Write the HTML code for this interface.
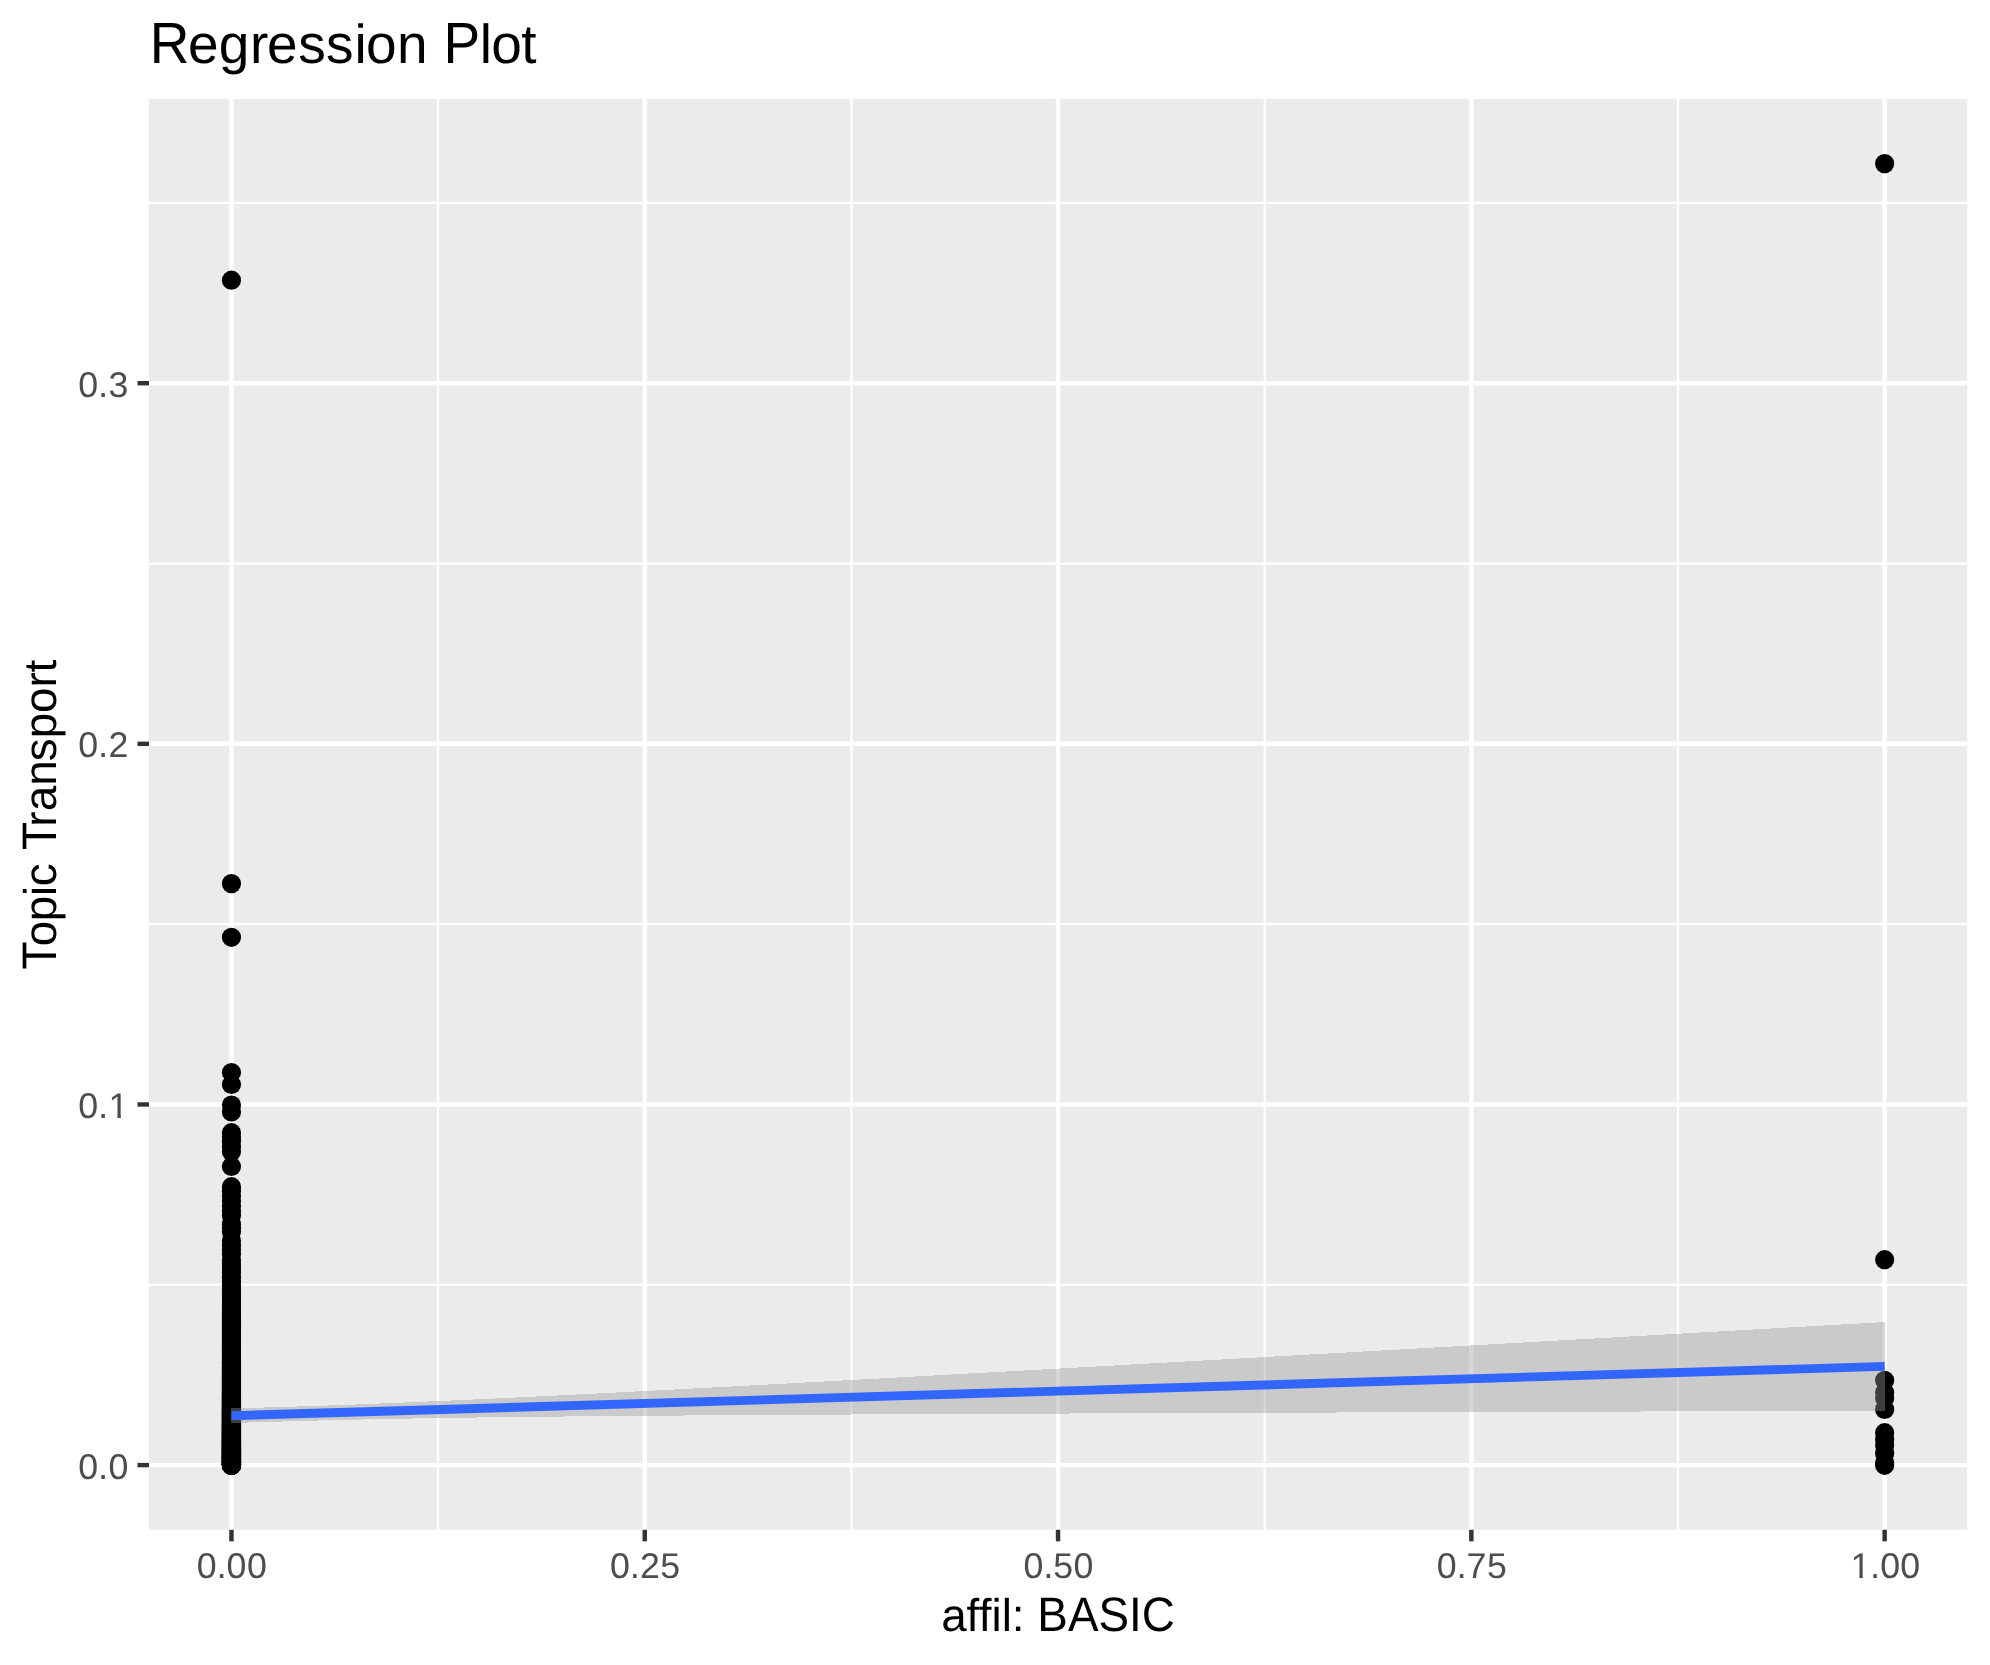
<!DOCTYPE html>
<html><head><meta charset="utf-8"><title>Regression Plot</title>
<style>html,body{margin:0;padding:0;background:#fff;width:1990px;height:1665px;overflow:hidden}body{position:relative;font-family:"Liberation Sans",sans-serif}</style></head>
<body>
<svg width="1990" height="1665" viewBox="0 0 1990 1665" style="display:block;position:absolute;left:0;top:0;will-change:transform">
<defs><clipPath id="c1"><path d="M-20,-40H20V-3.05H2.4V2H-1.1V-3.05H-20Z"/></clipPath></defs>
<rect x="0" y="0" width="1990" height="1665" fill="#FFFFFF"/>
<rect x="149.0" y="99.0" width="1818.2" height="1430.8" fill="#EBEBEB"/>
<line x1="149.0" x2="1967.2" y1="1284.78" y2="1284.78" stroke="#FFFFFF" stroke-width="2.22"/>
<line x1="149.0" x2="1967.2" y1="924.15" y2="924.15" stroke="#FFFFFF" stroke-width="2.22"/>
<line x1="149.0" x2="1967.2" y1="563.52" y2="563.52" stroke="#FFFFFF" stroke-width="2.22"/>
<line x1="149.0" x2="1967.2" y1="202.89" y2="202.89" stroke="#FFFFFF" stroke-width="2.22"/>
<line y1="99.0" y2="1529.8" x1="438.10" x2="438.10" stroke="#FFFFFF" stroke-width="2.22"/>
<line y1="99.0" y2="1529.8" x1="851.40" x2="851.40" stroke="#FFFFFF" stroke-width="2.22"/>
<line y1="99.0" y2="1529.8" x1="1264.70" x2="1264.70" stroke="#FFFFFF" stroke-width="2.22"/>
<line y1="99.0" y2="1529.8" x1="1678.00" x2="1678.00" stroke="#FFFFFF" stroke-width="2.22"/>
<line x1="149.0" x2="1967.2" y1="1465.10" y2="1465.10" stroke="#FFFFFF" stroke-width="4.45"/>
<line x1="149.0" x2="1967.2" y1="1104.47" y2="1104.47" stroke="#FFFFFF" stroke-width="4.45"/>
<line x1="149.0" x2="1967.2" y1="743.84" y2="743.84" stroke="#FFFFFF" stroke-width="4.45"/>
<line x1="149.0" x2="1967.2" y1="383.21" y2="383.21" stroke="#FFFFFF" stroke-width="4.45"/>
<line y1="99.0" y2="1529.8" x1="231.45" x2="231.45" stroke="#FFFFFF" stroke-width="4.45"/>
<line y1="99.0" y2="1529.8" x1="644.75" x2="644.75" stroke="#FFFFFF" stroke-width="4.45"/>
<line y1="99.0" y2="1529.8" x1="1058.05" x2="1058.05" stroke="#FFFFFF" stroke-width="4.45"/>
<line y1="99.0" y2="1529.8" x1="1471.35" x2="1471.35" stroke="#FFFFFF" stroke-width="4.45"/>
<line y1="99.0" y2="1529.8" x1="1884.65" x2="1884.65" stroke="#FFFFFF" stroke-width="4.45"/>
<g fill="#000000">
<circle cx="231.45" cy="280.2" r="9.6"/>
<circle cx="231.45" cy="883.65" r="9.6"/>
<circle cx="231.45" cy="937.3" r="9.6"/>
<circle cx="231.45" cy="1072.5" r="9.6"/>
<circle cx="231.45" cy="1084.5" r="9.6"/>
<circle cx="231.45" cy="1105.1" r="9.6"/>
<circle cx="231.45" cy="1111.9" r="9.6"/>
<circle cx="231.45" cy="1132.7" r="9.6"/>
<circle cx="231.45" cy="1137.0" r="9.6"/>
<circle cx="231.45" cy="1141.3" r="9.6"/>
<circle cx="231.45" cy="1146.5" r="9.6"/>
<circle cx="231.45" cy="1151.8" r="9.6"/>
<circle cx="231.45" cy="1166.5" r="9.6"/>
<circle cx="231.45" cy="1186.7" r="9.6"/>
<circle cx="231.45" cy="1191.2" r="9.6"/>
<circle cx="231.45" cy="1196" r="9.6"/>
<circle cx="231.45" cy="1201" r="9.6"/>
<circle cx="231.45" cy="1206" r="9.6"/>
<circle cx="231.45" cy="1211" r="9.6"/>
<circle cx="231.45" cy="1215.6" r="9.6"/>
<circle cx="231.45" cy="1224.4" r="9.6"/>
<circle cx="231.45" cy="1228" r="9.6"/>
<circle cx="231.45" cy="1231.8" r="9.6"/>
<circle cx="231.45" cy="1240.8" r="9.6"/>
<circle cx="231.45" cy="1245" r="9.6"/>
<circle cx="231.45" cy="1249.5" r="9.6"/>
<circle cx="231.45" cy="1254.3" r="9.6"/>
<circle cx="231.45" cy="1260.6" r="9.6"/>
<circle cx="231.45" cy="1264" r="9.6"/>
<circle cx="231.45" cy="1267.5" r="9.6"/>
<circle cx="231.45" cy="1465.04" r="9.6"/>
<circle cx="231.45" cy="1464.92" r="9.6"/>
<circle cx="231.45" cy="1464.8" r="9.6"/>
<circle cx="231.45" cy="1464.68" r="9.6"/>
<circle cx="231.45" cy="1464.55" r="9.6"/>
<circle cx="231.45" cy="1464.43" r="9.6"/>
<circle cx="231.45" cy="1464.31" r="9.6"/>
<circle cx="231.45" cy="1464.19" r="9.6"/>
<circle cx="231.45" cy="1464.06" r="9.6"/>
<circle cx="231.45" cy="1463.94" r="9.6"/>
<circle cx="231.45" cy="1463.81" r="9.6"/>
<circle cx="231.45" cy="1463.69" r="9.6"/>
<circle cx="231.45" cy="1463.57" r="9.6"/>
<circle cx="231.45" cy="1463.44" r="9.6"/>
<circle cx="231.45" cy="1463.32" r="9.6"/>
<circle cx="231.45" cy="1463.19" r="9.6"/>
<circle cx="231.45" cy="1463.07" r="9.6"/>
<circle cx="231.45" cy="1462.94" r="9.6"/>
<circle cx="231.45" cy="1462.81" r="9.6"/>
<circle cx="231.45" cy="1462.69" r="9.6"/>
<circle cx="231.45" cy="1462.56" r="9.6"/>
<circle cx="231.45" cy="1462.43" r="9.6"/>
<circle cx="231.45" cy="1462.31" r="9.6"/>
<circle cx="231.45" cy="1462.18" r="9.6"/>
<circle cx="231.45" cy="1462.05" r="9.6"/>
<circle cx="231.45" cy="1461.92" r="9.6"/>
<circle cx="231.45" cy="1461.79" r="9.6"/>
<circle cx="231.45" cy="1461.66" r="9.6"/>
<circle cx="231.45" cy="1461.53" r="9.6"/>
<circle cx="231.45" cy="1461.41" r="9.6"/>
<circle cx="231.45" cy="1461.28" r="9.6"/>
<circle cx="231.45" cy="1461.14" r="9.6"/>
<circle cx="231.45" cy="1461.01" r="9.6"/>
<circle cx="231.45" cy="1460.88" r="9.6"/>
<circle cx="231.45" cy="1460.75" r="9.6"/>
<circle cx="231.45" cy="1460.62" r="9.6"/>
<circle cx="231.45" cy="1460.49" r="9.6"/>
<circle cx="231.45" cy="1460.36" r="9.6"/>
<circle cx="231.45" cy="1460.22" r="9.6"/>
<circle cx="231.45" cy="1460.09" r="9.6"/>
<circle cx="231.45" cy="1459.96" r="9.6"/>
<circle cx="231.45" cy="1459.82" r="9.6"/>
<circle cx="231.45" cy="1459.69" r="9.6"/>
<circle cx="231.45" cy="1459.56" r="9.6"/>
<circle cx="231.45" cy="1459.42" r="9.6"/>
<circle cx="231.45" cy="1459.29" r="9.6"/>
<circle cx="231.45" cy="1459.15" r="9.6"/>
<circle cx="231.45" cy="1459.01" r="9.6"/>
<circle cx="231.45" cy="1458.88" r="9.6"/>
<circle cx="231.45" cy="1458.74" r="9.6"/>
<circle cx="231.45" cy="1458.61" r="9.6"/>
<circle cx="231.45" cy="1458.47" r="9.6"/>
<circle cx="231.45" cy="1458.33" r="9.6"/>
<circle cx="231.45" cy="1458.19" r="9.6"/>
<circle cx="231.45" cy="1458.05" r="9.6"/>
<circle cx="231.45" cy="1457.92" r="9.6"/>
<circle cx="231.45" cy="1457.78" r="9.6"/>
<circle cx="231.45" cy="1457.64" r="9.6"/>
<circle cx="231.45" cy="1457.5" r="9.6"/>
<circle cx="231.45" cy="1457.36" r="9.6"/>
<circle cx="231.45" cy="1457.22" r="9.6"/>
<circle cx="231.45" cy="1457.08" r="9.6"/>
<circle cx="231.45" cy="1456.93" r="9.6"/>
<circle cx="231.45" cy="1456.79" r="9.6"/>
<circle cx="231.45" cy="1456.65" r="9.6"/>
<circle cx="231.45" cy="1456.51" r="9.6"/>
<circle cx="231.45" cy="1456.37" r="9.6"/>
<circle cx="231.45" cy="1456.22" r="9.6"/>
<circle cx="231.45" cy="1456.08" r="9.6"/>
<circle cx="231.45" cy="1455.93" r="9.6"/>
<circle cx="231.45" cy="1455.79" r="9.6"/>
<circle cx="231.45" cy="1455.65" r="9.6"/>
<circle cx="231.45" cy="1455.5" r="9.6"/>
<circle cx="231.45" cy="1455.35" r="9.6"/>
<circle cx="231.45" cy="1455.21" r="9.6"/>
<circle cx="231.45" cy="1455.06" r="9.6"/>
<circle cx="231.45" cy="1454.92" r="9.6"/>
<circle cx="231.45" cy="1454.77" r="9.6"/>
<circle cx="231.45" cy="1454.62" r="9.6"/>
<circle cx="231.45" cy="1454.47" r="9.6"/>
<circle cx="231.45" cy="1454.32" r="9.6"/>
<circle cx="231.45" cy="1454.18" r="9.6"/>
<circle cx="231.45" cy="1454.03" r="9.6"/>
<circle cx="231.45" cy="1453.88" r="9.6"/>
<circle cx="231.45" cy="1453.73" r="9.6"/>
<circle cx="231.45" cy="1453.57" r="9.6"/>
<circle cx="231.45" cy="1453.42" r="9.6"/>
<circle cx="231.45" cy="1453.27" r="9.6"/>
<circle cx="231.45" cy="1453.12" r="9.6"/>
<circle cx="231.45" cy="1452.97" r="9.6"/>
<circle cx="231.45" cy="1452.81" r="9.6"/>
<circle cx="231.45" cy="1452.66" r="9.6"/>
<circle cx="231.45" cy="1452.51" r="9.6"/>
<circle cx="231.45" cy="1452.35" r="9.6"/>
<circle cx="231.45" cy="1452.2" r="9.6"/>
<circle cx="231.45" cy="1452.04" r="9.6"/>
<circle cx="231.45" cy="1451.89" r="9.6"/>
<circle cx="231.45" cy="1451.73" r="9.6"/>
<circle cx="231.45" cy="1451.58" r="9.6"/>
<circle cx="231.45" cy="1451.42" r="9.6"/>
<circle cx="231.45" cy="1451.26" r="9.6"/>
<circle cx="231.45" cy="1451.1" r="9.6"/>
<circle cx="231.45" cy="1450.94" r="9.6"/>
<circle cx="231.45" cy="1450.79" r="9.6"/>
<circle cx="231.45" cy="1450.63" r="9.6"/>
<circle cx="231.45" cy="1450.47" r="9.6"/>
<circle cx="231.45" cy="1450.31" r="9.6"/>
<circle cx="231.45" cy="1450.14" r="9.6"/>
<circle cx="231.45" cy="1449.98" r="9.6"/>
<circle cx="231.45" cy="1449.82" r="9.6"/>
<circle cx="231.45" cy="1449.66" r="9.6"/>
<circle cx="231.45" cy="1449.5" r="9.6"/>
<circle cx="231.45" cy="1449.33" r="9.6"/>
<circle cx="231.45" cy="1449.17" r="9.6"/>
<circle cx="231.45" cy="1449.0" r="9.6"/>
<circle cx="231.45" cy="1448.84" r="9.6"/>
<circle cx="231.45" cy="1448.67" r="9.6"/>
<circle cx="231.45" cy="1448.51" r="9.6"/>
<circle cx="231.45" cy="1448.34" r="9.6"/>
<circle cx="231.45" cy="1448.17" r="9.6"/>
<circle cx="231.45" cy="1448.01" r="9.6"/>
<circle cx="231.45" cy="1447.84" r="9.6"/>
<circle cx="231.45" cy="1447.67" r="9.6"/>
<circle cx="231.45" cy="1447.5" r="9.6"/>
<circle cx="231.45" cy="1447.33" r="9.6"/>
<circle cx="231.45" cy="1447.16" r="9.6"/>
<circle cx="231.45" cy="1446.99" r="9.6"/>
<circle cx="231.45" cy="1446.82" r="9.6"/>
<circle cx="231.45" cy="1446.64" r="9.6"/>
<circle cx="231.45" cy="1446.47" r="9.6"/>
<circle cx="231.45" cy="1446.3" r="9.6"/>
<circle cx="231.45" cy="1446.12" r="9.6"/>
<circle cx="231.45" cy="1445.95" r="9.6"/>
<circle cx="231.45" cy="1445.77" r="9.6"/>
<circle cx="231.45" cy="1445.6" r="9.6"/>
<circle cx="231.45" cy="1445.42" r="9.6"/>
<circle cx="231.45" cy="1445.25" r="9.6"/>
<circle cx="231.45" cy="1445.07" r="9.6"/>
<circle cx="231.45" cy="1444.89" r="9.6"/>
<circle cx="231.45" cy="1444.71" r="9.6"/>
<circle cx="231.45" cy="1444.53" r="9.6"/>
<circle cx="231.45" cy="1444.35" r="9.6"/>
<circle cx="231.45" cy="1444.17" r="9.6"/>
<circle cx="231.45" cy="1443.99" r="9.6"/>
<circle cx="231.45" cy="1443.81" r="9.6"/>
<circle cx="231.45" cy="1443.63" r="9.6"/>
<circle cx="231.45" cy="1443.44" r="9.6"/>
<circle cx="231.45" cy="1443.26" r="9.6"/>
<circle cx="231.45" cy="1443.08" r="9.6"/>
<circle cx="231.45" cy="1442.89" r="9.6"/>
<circle cx="231.45" cy="1442.71" r="9.6"/>
<circle cx="231.45" cy="1442.52" r="9.6"/>
<circle cx="231.45" cy="1442.33" r="9.6"/>
<circle cx="231.45" cy="1442.14" r="9.6"/>
<circle cx="231.45" cy="1441.96" r="9.6"/>
<circle cx="231.45" cy="1441.77" r="9.6"/>
<circle cx="231.45" cy="1441.58" r="9.6"/>
<circle cx="231.45" cy="1441.39" r="9.6"/>
<circle cx="231.45" cy="1441.2" r="9.6"/>
<circle cx="231.45" cy="1441.0" r="9.6"/>
<circle cx="231.45" cy="1440.81" r="9.6"/>
<circle cx="231.45" cy="1440.62" r="9.6"/>
<circle cx="231.45" cy="1440.42" r="9.6"/>
<circle cx="231.45" cy="1440.23" r="9.6"/>
<circle cx="231.45" cy="1440.03" r="9.6"/>
<circle cx="231.45" cy="1439.84" r="9.6"/>
<circle cx="231.45" cy="1439.64" r="9.6"/>
<circle cx="231.45" cy="1439.44" r="9.6"/>
<circle cx="231.45" cy="1439.25" r="9.6"/>
<circle cx="231.45" cy="1439.05" r="9.6"/>
<circle cx="231.45" cy="1438.85" r="9.6"/>
<circle cx="231.45" cy="1438.65" r="9.6"/>
<circle cx="231.45" cy="1438.44" r="9.6"/>
<circle cx="231.45" cy="1438.24" r="9.6"/>
<circle cx="231.45" cy="1438.04" r="9.6"/>
<circle cx="231.45" cy="1437.83" r="9.6"/>
<circle cx="231.45" cy="1437.63" r="9.6"/>
<circle cx="231.45" cy="1437.42" r="9.6"/>
<circle cx="231.45" cy="1437.22" r="9.6"/>
<circle cx="231.45" cy="1437.01" r="9.6"/>
<circle cx="231.45" cy="1436.8" r="9.6"/>
<circle cx="231.45" cy="1436.59" r="9.6"/>
<circle cx="231.45" cy="1436.39" r="9.6"/>
<circle cx="231.45" cy="1436.17" r="9.6"/>
<circle cx="231.45" cy="1435.96" r="9.6"/>
<circle cx="231.45" cy="1435.75" r="9.6"/>
<circle cx="231.45" cy="1435.54" r="9.6"/>
<circle cx="231.45" cy="1435.32" r="9.6"/>
<circle cx="231.45" cy="1435.11" r="9.6"/>
<circle cx="231.45" cy="1434.89" r="9.6"/>
<circle cx="231.45" cy="1434.68" r="9.6"/>
<circle cx="231.45" cy="1434.46" r="9.6"/>
<circle cx="231.45" cy="1434.24" r="9.6"/>
<circle cx="231.45" cy="1434.02" r="9.6"/>
<circle cx="231.45" cy="1433.8" r="9.6"/>
<circle cx="231.45" cy="1433.58" r="9.6"/>
<circle cx="231.45" cy="1433.36" r="9.6"/>
<circle cx="231.45" cy="1433.14" r="9.6"/>
<circle cx="231.45" cy="1432.91" r="9.6"/>
<circle cx="231.45" cy="1432.69" r="9.6"/>
<circle cx="231.45" cy="1432.46" r="9.6"/>
<circle cx="231.45" cy="1432.23" r="9.6"/>
<circle cx="231.45" cy="1432.01" r="9.6"/>
<circle cx="231.45" cy="1431.78" r="9.6"/>
<circle cx="231.45" cy="1431.55" r="9.6"/>
<circle cx="231.45" cy="1431.32" r="9.6"/>
<circle cx="231.45" cy="1431.08" r="9.6"/>
<circle cx="231.45" cy="1430.85" r="9.6"/>
<circle cx="231.45" cy="1430.62" r="9.6"/>
<circle cx="231.45" cy="1430.38" r="9.6"/>
<circle cx="231.45" cy="1430.14" r="9.6"/>
<circle cx="231.45" cy="1429.91" r="9.6"/>
<circle cx="231.45" cy="1429.67" r="9.6"/>
<circle cx="231.45" cy="1429.43" r="9.6"/>
<circle cx="231.45" cy="1429.19" r="9.6"/>
<circle cx="231.45" cy="1428.95" r="9.6"/>
<circle cx="231.45" cy="1428.7" r="9.6"/>
<circle cx="231.45" cy="1428.46" r="9.6"/>
<circle cx="231.45" cy="1428.21" r="9.6"/>
<circle cx="231.45" cy="1427.97" r="9.6"/>
<circle cx="231.45" cy="1427.72" r="9.6"/>
<circle cx="231.45" cy="1427.47" r="9.6"/>
<circle cx="231.45" cy="1427.22" r="9.6"/>
<circle cx="231.45" cy="1426.97" r="9.6"/>
<circle cx="231.45" cy="1426.72" r="9.6"/>
<circle cx="231.45" cy="1426.47" r="9.6"/>
<circle cx="231.45" cy="1426.21" r="9.6"/>
<circle cx="231.45" cy="1425.95" r="9.6"/>
<circle cx="231.45" cy="1425.7" r="9.6"/>
<circle cx="231.45" cy="1425.44" r="9.6"/>
<circle cx="231.45" cy="1425.18" r="9.6"/>
<circle cx="231.45" cy="1424.92" r="9.6"/>
<circle cx="231.45" cy="1424.66" r="9.6"/>
<circle cx="231.45" cy="1424.39" r="9.6"/>
<circle cx="231.45" cy="1424.13" r="9.6"/>
<circle cx="231.45" cy="1423.86" r="9.6"/>
<circle cx="231.45" cy="1423.59" r="9.6"/>
<circle cx="231.45" cy="1423.32" r="9.6"/>
<circle cx="231.45" cy="1423.05" r="9.6"/>
<circle cx="231.45" cy="1422.78" r="9.6"/>
<circle cx="231.45" cy="1422.51" r="9.6"/>
<circle cx="231.45" cy="1422.23" r="9.6"/>
<circle cx="231.45" cy="1421.95" r="9.6"/>
<circle cx="231.45" cy="1421.68" r="9.6"/>
<circle cx="231.45" cy="1421.4" r="9.6"/>
<circle cx="231.45" cy="1421.12" r="9.6"/>
<circle cx="231.45" cy="1420.83" r="9.6"/>
<circle cx="231.45" cy="1420.55" r="9.6"/>
<circle cx="231.45" cy="1420.26" r="9.6"/>
<circle cx="231.45" cy="1419.98" r="9.6"/>
<circle cx="231.45" cy="1419.69" r="9.6"/>
<circle cx="231.45" cy="1419.4" r="9.6"/>
<circle cx="231.45" cy="1419.11" r="9.6"/>
<circle cx="231.45" cy="1418.81" r="9.6"/>
<circle cx="231.45" cy="1418.52" r="9.6"/>
<circle cx="231.45" cy="1418.22" r="9.6"/>
<circle cx="231.45" cy="1417.92" r="9.6"/>
<circle cx="231.45" cy="1417.62" r="9.6"/>
<circle cx="231.45" cy="1417.32" r="9.6"/>
<circle cx="231.45" cy="1417.01" r="9.6"/>
<circle cx="231.45" cy="1416.71" r="9.6"/>
<circle cx="231.45" cy="1416.4" r="9.6"/>
<circle cx="231.45" cy="1416.09" r="9.6"/>
<circle cx="231.45" cy="1415.78" r="9.6"/>
<circle cx="231.45" cy="1415.47" r="9.6"/>
<circle cx="231.45" cy="1415.15" r="9.6"/>
<circle cx="231.45" cy="1414.84" r="9.6"/>
<circle cx="231.45" cy="1414.52" r="9.6"/>
<circle cx="231.45" cy="1414.2" r="9.6"/>
<circle cx="231.45" cy="1413.87" r="9.6"/>
<circle cx="231.45" cy="1413.55" r="9.6"/>
<circle cx="231.45" cy="1413.22" r="9.6"/>
<circle cx="231.45" cy="1412.89" r="9.6"/>
<circle cx="231.45" cy="1412.56" r="9.6"/>
<circle cx="231.45" cy="1412.23" r="9.6"/>
<circle cx="231.45" cy="1411.89" r="9.6"/>
<circle cx="231.45" cy="1411.56" r="9.6"/>
<circle cx="231.45" cy="1411.22" r="9.6"/>
<circle cx="231.45" cy="1410.87" r="9.6"/>
<circle cx="231.45" cy="1410.53" r="9.6"/>
<circle cx="231.45" cy="1410.18" r="9.6"/>
<circle cx="231.45" cy="1409.84" r="9.6"/>
<circle cx="231.45" cy="1409.48" r="9.6"/>
<circle cx="231.45" cy="1409.13" r="9.6"/>
<circle cx="231.45" cy="1408.77" r="9.6"/>
<circle cx="231.45" cy="1408.42" r="9.6"/>
<circle cx="231.45" cy="1408.06" r="9.6"/>
<circle cx="231.45" cy="1407.69" r="9.6"/>
<circle cx="231.45" cy="1407.33" r="9.6"/>
<circle cx="231.45" cy="1406.96" r="9.6"/>
<circle cx="231.45" cy="1406.59" r="9.6"/>
<circle cx="231.45" cy="1406.21" r="9.6"/>
<circle cx="231.45" cy="1405.84" r="9.6"/>
<circle cx="231.45" cy="1405.46" r="9.6"/>
<circle cx="231.45" cy="1405.07" r="9.6"/>
<circle cx="231.45" cy="1404.69" r="9.6"/>
<circle cx="231.45" cy="1404.3" r="9.6"/>
<circle cx="231.45" cy="1403.91" r="9.6"/>
<circle cx="231.45" cy="1403.52" r="9.6"/>
<circle cx="231.45" cy="1403.12" r="9.6"/>
<circle cx="231.45" cy="1402.72" r="9.6"/>
<circle cx="231.45" cy="1402.32" r="9.6"/>
<circle cx="231.45" cy="1401.91" r="9.6"/>
<circle cx="231.45" cy="1401.5" r="9.6"/>
<circle cx="231.45" cy="1401.09" r="9.6"/>
<circle cx="231.45" cy="1400.68" r="9.6"/>
<circle cx="231.45" cy="1400.26" r="9.6"/>
<circle cx="231.45" cy="1399.83" r="9.6"/>
<circle cx="231.45" cy="1399.41" r="9.6"/>
<circle cx="231.45" cy="1398.98" r="9.6"/>
<circle cx="231.45" cy="1398.55" r="9.6"/>
<circle cx="231.45" cy="1398.11" r="9.6"/>
<circle cx="231.45" cy="1397.67" r="9.6"/>
<circle cx="231.45" cy="1397.22" r="9.6"/>
<circle cx="231.45" cy="1396.78" r="9.6"/>
<circle cx="231.45" cy="1396.32" r="9.6"/>
<circle cx="231.45" cy="1395.87" r="9.6"/>
<circle cx="231.45" cy="1395.41" r="9.6"/>
<circle cx="231.45" cy="1394.95" r="9.6"/>
<circle cx="231.45" cy="1394.48" r="9.6"/>
<circle cx="231.45" cy="1394.01" r="9.6"/>
<circle cx="231.45" cy="1393.53" r="9.6"/>
<circle cx="231.45" cy="1393.05" r="9.6"/>
<circle cx="231.45" cy="1392.56" r="9.6"/>
<circle cx="231.45" cy="1392.07" r="9.6"/>
<circle cx="231.45" cy="1391.58" r="9.6"/>
<circle cx="231.45" cy="1391.08" r="9.6"/>
<circle cx="231.45" cy="1390.57" r="9.6"/>
<circle cx="231.45" cy="1390.06" r="9.6"/>
<circle cx="231.45" cy="1389.55" r="9.6"/>
<circle cx="231.45" cy="1389.03" r="9.6"/>
<circle cx="231.45" cy="1388.5" r="9.6"/>
<circle cx="231.45" cy="1387.97" r="9.6"/>
<circle cx="231.45" cy="1387.44" r="9.6"/>
<circle cx="231.45" cy="1386.9" r="9.6"/>
<circle cx="231.45" cy="1386.35" r="9.6"/>
<circle cx="231.45" cy="1385.8" r="9.6"/>
<circle cx="231.45" cy="1385.24" r="9.6"/>
<circle cx="231.45" cy="1384.68" r="9.6"/>
<circle cx="231.45" cy="1384.1" r="9.6"/>
<circle cx="231.45" cy="1383.53" r="9.6"/>
<circle cx="231.45" cy="1382.94" r="9.6"/>
<circle cx="231.45" cy="1382.35" r="9.6"/>
<circle cx="231.45" cy="1381.76" r="9.6"/>
<circle cx="231.45" cy="1381.15" r="9.6"/>
<circle cx="231.45" cy="1380.54" r="9.6"/>
<circle cx="231.45" cy="1379.92" r="9.6"/>
<circle cx="231.45" cy="1379.3" r="9.6"/>
<circle cx="231.45" cy="1378.66" r="9.6"/>
<circle cx="231.45" cy="1378.02" r="9.6"/>
<circle cx="231.45" cy="1377.37" r="9.6"/>
<circle cx="231.45" cy="1376.72" r="9.6"/>
<circle cx="231.45" cy="1376.05" r="9.6"/>
<circle cx="231.45" cy="1375.38" r="9.6"/>
<circle cx="231.45" cy="1374.69" r="9.6"/>
<circle cx="231.45" cy="1374.0" r="9.6"/>
<circle cx="231.45" cy="1373.3" r="9.6"/>
<circle cx="231.45" cy="1372.59" r="9.6"/>
<circle cx="231.45" cy="1371.87" r="9.6"/>
<circle cx="231.45" cy="1371.13" r="9.6"/>
<circle cx="231.45" cy="1370.39" r="9.6"/>
<circle cx="231.45" cy="1369.64" r="9.6"/>
<circle cx="231.45" cy="1368.88" r="9.6"/>
<circle cx="231.45" cy="1368.1" r="9.6"/>
<circle cx="231.45" cy="1367.31" r="9.6"/>
<circle cx="231.45" cy="1366.52" r="9.6"/>
<circle cx="231.45" cy="1365.7" r="9.6"/>
<circle cx="231.45" cy="1364.88" r="9.6"/>
<circle cx="231.45" cy="1364.04" r="9.6"/>
<circle cx="231.45" cy="1363.19" r="9.6"/>
<circle cx="231.45" cy="1362.33" r="9.6"/>
<circle cx="231.45" cy="1361.45" r="9.6"/>
<circle cx="231.45" cy="1360.55" r="9.6"/>
<circle cx="231.45" cy="1359.64" r="9.6"/>
<circle cx="231.45" cy="1358.71" r="9.6"/>
<circle cx="231.45" cy="1357.77" r="9.6"/>
<circle cx="231.45" cy="1356.81" r="9.6"/>
<circle cx="231.45" cy="1355.83" r="9.6"/>
<circle cx="231.45" cy="1354.83" r="9.6"/>
<circle cx="231.45" cy="1353.81" r="9.6"/>
<circle cx="231.45" cy="1352.77" r="9.6"/>
<circle cx="231.45" cy="1351.72" r="9.6"/>
<circle cx="231.45" cy="1350.63" r="9.6"/>
<circle cx="231.45" cy="1349.53" r="9.6"/>
<circle cx="231.45" cy="1348.4" r="9.6"/>
<circle cx="231.45" cy="1347.25" r="9.6"/>
<circle cx="231.45" cy="1346.07" r="9.6"/>
<circle cx="231.45" cy="1344.86" r="9.6"/>
<circle cx="231.45" cy="1343.63" r="9.6"/>
<circle cx="231.45" cy="1342.36" r="9.6"/>
<circle cx="231.45" cy="1341.06" r="9.6"/>
<circle cx="231.45" cy="1339.73" r="9.6"/>
<circle cx="231.45" cy="1338.37" r="9.6"/>
<circle cx="231.45" cy="1336.97" r="9.6"/>
<circle cx="231.45" cy="1335.53" r="9.6"/>
<circle cx="231.45" cy="1334.05" r="9.6"/>
<circle cx="231.45" cy="1332.52" r="9.6"/>
<circle cx="231.45" cy="1330.95" r="9.6"/>
<circle cx="231.45" cy="1329.33" r="9.6"/>
<circle cx="231.45" cy="1327.66" r="9.6"/>
<circle cx="231.45" cy="1325.93" r="9.6"/>
<circle cx="231.45" cy="1324.14" r="9.6"/>
<circle cx="231.45" cy="1322.29" r="9.6"/>
<circle cx="231.45" cy="1320.37" r="9.6"/>
<circle cx="231.45" cy="1318.38" r="9.6"/>
<circle cx="231.45" cy="1316.3" r="9.6"/>
<circle cx="231.45" cy="1314.15" r="9.6"/>
<circle cx="231.45" cy="1311.89" r="9.6"/>
<circle cx="231.45" cy="1309.54" r="9.6"/>
<circle cx="231.45" cy="1307.08" r="9.6"/>
<circle cx="231.45" cy="1304.49" r="9.6"/>
<circle cx="231.45" cy="1301.76" r="9.6"/>
<circle cx="231.45" cy="1298.89" r="9.6"/>
<circle cx="231.45" cy="1295.85" r="9.6"/>
<circle cx="231.45" cy="1292.61" r="9.6"/>
<circle cx="231.45" cy="1289.17" r="9.6"/>
<circle cx="231.45" cy="1285.48" r="9.6"/>
<circle cx="231.45" cy="1281.51" r="9.6"/>
<circle cx="231.45" cy="1277.2" r="9.6"/>
<circle cx="231.45" cy="1272.51" r="9.6"/>
<circle cx="231.45" cy="1465.1" r="9.6"/>
<circle cx="231.45" cy="1465.1" r="9.6"/>
<circle cx="231.45" cy="1465.1" r="9.6"/>
<circle cx="231.45" cy="1465.1" r="9.6"/>
<circle cx="231.45" cy="1465.1" r="9.6"/>
<circle cx="231.45" cy="1465.1" r="9.6"/>
<circle cx="231.45" cy="1465.1" r="9.6"/>
<circle cx="231.45" cy="1465.1" r="9.6"/>
<circle cx="231.45" cy="1465.1" r="9.6"/>
<circle cx="231.45" cy="1465.1" r="9.6"/>
<circle cx="231.45" cy="1465.1" r="9.6"/>
<circle cx="231.45" cy="1465.1" r="9.6"/>
<circle cx="1884.65" cy="163.6" r="9.6"/>
<circle cx="1884.65" cy="1259.7" r="9.6"/>
<circle cx="1884.65" cy="1380.3" r="9.6"/>
<circle cx="1884.65" cy="1392.5" r="9.6"/>
<circle cx="1884.65" cy="1398.0" r="9.6"/>
<circle cx="1884.65" cy="1409.4" r="9.6"/>
<circle cx="1884.65" cy="1432.7" r="9.6"/>
<circle cx="1884.65" cy="1439.4" r="9.6"/>
<circle cx="1884.65" cy="1445.6" r="9.6"/>
<circle cx="1884.65" cy="1453.4" r="9.6"/>
<circle cx="1884.65" cy="1462.8" r="9.6"/>
<circle cx="1884.65" cy="1465.3" r="9.6"/>
</g>
<polygon fill="#999999" fill-opacity="0.4" shape-rendering="crispEdges" points="231.45,1408.40 252.11,1407.85 272.78,1407.26 293.44,1406.63 314.11,1405.96 334.77,1405.24 355.44,1404.48 376.11,1403.68 396.77,1402.85 417.44,1401.99 438.10,1401.09 458.76,1400.17 479.43,1399.22 500.10,1398.25 520.76,1397.26 541.42,1396.26 562.09,1395.24 582.75,1394.20 603.42,1393.16 624.09,1392.10 644.75,1391.03 665.41,1389.95 686.08,1388.87 706.74,1387.78 727.41,1386.68 748.08,1385.58 768.74,1384.47 789.40,1383.35 810.07,1382.24 830.73,1381.11 851.40,1379.99 872.07,1378.86 892.73,1377.73 913.39,1376.60 934.06,1375.46 954.72,1374.32 975.39,1373.18 996.06,1372.04 1016.72,1370.89 1037.38,1369.75 1058.05,1368.60 1078.71,1367.45 1099.38,1366.30 1120.05,1365.15 1140.71,1363.99 1161.38,1362.84 1182.04,1361.68 1202.71,1360.53 1223.37,1359.37 1244.04,1358.21 1264.70,1357.05 1285.37,1355.89 1306.03,1354.73 1326.69,1353.57 1347.36,1352.41 1368.03,1351.24 1388.69,1350.08 1409.36,1348.92 1430.02,1347.75 1450.69,1346.59 1471.35,1345.42 1492.02,1344.26 1512.68,1343.09 1533.35,1341.93 1554.01,1340.76 1574.68,1339.59 1595.34,1338.42 1616.01,1337.26 1636.67,1336.09 1657.34,1334.92 1678.00,1333.75 1698.66,1332.58 1719.33,1331.41 1740.00,1330.24 1760.66,1329.07 1781.33,1327.90 1801.99,1326.73 1822.66,1325.56 1843.32,1324.39 1863.99,1323.22 1884.65,1322.05 1884.65,1410.75 1863.99,1410.81 1843.32,1410.88 1822.66,1410.94 1801.99,1411.00 1781.33,1411.07 1760.66,1411.13 1740.00,1411.19 1719.33,1411.26 1698.66,1411.32 1678.00,1411.39 1657.34,1411.45 1636.67,1411.52 1616.01,1411.58 1595.34,1411.65 1574.68,1411.71 1554.01,1411.78 1533.35,1411.85 1512.68,1411.91 1492.02,1411.98 1471.35,1412.05 1450.69,1412.12 1430.02,1412.19 1409.36,1412.26 1388.69,1412.33 1368.03,1412.40 1347.36,1412.47 1326.69,1412.54 1306.03,1412.61 1285.37,1412.69 1264.70,1412.76 1244.04,1412.84 1223.37,1412.91 1202.71,1412.99 1182.04,1413.07 1161.38,1413.14 1140.71,1413.22 1120.05,1413.30 1099.38,1413.39 1078.71,1413.47 1058.05,1413.55 1037.38,1413.64 1016.72,1413.73 996.06,1413.81 975.39,1413.91 954.72,1414.00 934.06,1414.09 913.39,1414.19 892.73,1414.29 872.07,1414.39 851.40,1414.50 830.73,1414.61 810.07,1414.72 789.40,1414.83 768.74,1414.95 748.08,1415.08 727.41,1415.21 706.74,1415.35 686.08,1415.49 665.41,1415.64 644.75,1415.79 624.09,1415.96 603.42,1416.14 582.75,1416.32 562.09,1416.52 541.42,1416.73 520.76,1416.96 500.10,1417.21 479.43,1417.47 458.76,1417.76 438.10,1418.07 417.44,1418.41 396.77,1418.78 376.11,1419.18 355.44,1419.62 334.77,1420.09 314.11,1420.61 293.44,1421.17 272.78,1421.77 252.11,1422.41 231.45,1423.10"/>
<line x1="231.45" y1="1415.75" x2="1884.65" y2="1366.4" stroke="#3366FF" stroke-width="8.9" stroke-linecap="butt"/>
<line x1="137.5" x2="149.0" y1="1465.10" y2="1465.10" stroke="#333333" stroke-width="4.45"/>
<line x1="137.5" x2="149.0" y1="1104.47" y2="1104.47" stroke="#333333" stroke-width="4.45"/>
<line x1="137.5" x2="149.0" y1="743.84" y2="743.84" stroke="#333333" stroke-width="4.45"/>
<line x1="137.5" x2="149.0" y1="383.21" y2="383.21" stroke="#333333" stroke-width="4.45"/>
<line y1="1529.8" y2="1541.3" x1="231.45" x2="231.45" stroke="#333333" stroke-width="4.45"/>
<line y1="1529.8" y2="1541.3" x1="644.75" x2="644.75" stroke="#333333" stroke-width="4.45"/>
<line y1="1529.8" y2="1541.3" x1="1058.05" x2="1058.05" stroke="#333333" stroke-width="4.45"/>
<line y1="1529.8" y2="1541.3" x1="1471.35" x2="1471.35" stroke="#333333" stroke-width="4.45"/>
<line y1="1529.8" y2="1541.3" x1="1884.65" x2="1884.65" stroke="#333333" stroke-width="4.45"/>
<g font-family="Liberation Sans, sans-serif" font-size="36.67" fill="#4D4D4D" text-anchor="middle" text-rendering="geometricPrecision"><text transform="translate(88.13,1478.70) scale(0.975,0.975)">0</text><text transform="translate(103.01,1478.70)">.</text><text transform="translate(118.50,1478.70) scale(0.975,0.975)">0</text></g>
<g font-family="Liberation Sans, sans-serif" font-size="36.67" fill="#4D4D4D" text-anchor="middle" text-rendering="geometricPrecision"><text transform="translate(88.13,1118.07) scale(0.975,0.975)">0</text><text transform="translate(103.01,1118.07)">.</text><text transform="translate(118.50,1118.07) scale(0.975,0.975)" clip-path="url(#c1)">1</text></g>
<g font-family="Liberation Sans, sans-serif" font-size="36.67" fill="#4D4D4D" text-anchor="middle" text-rendering="geometricPrecision"><text transform="translate(88.13,757.44) scale(0.975,0.975)">0</text><text transform="translate(103.01,757.44)">.</text><text transform="translate(118.50,757.44) scale(0.975,0.975)">2</text></g>
<g font-family="Liberation Sans, sans-serif" font-size="36.67" fill="#4D4D4D" text-anchor="middle" text-rendering="geometricPrecision"><text transform="translate(88.13,396.81) scale(0.975,0.975)">0</text><text transform="translate(103.01,396.81)">.</text><text transform="translate(118.50,396.81) scale(0.975,0.975)">3</text></g>
<g font-family="Liberation Sans, sans-serif" font-size="36.67" fill="#4D4D4D" text-anchor="middle" text-rendering="geometricPrecision"><text transform="translate(206.72,1577.90) scale(0.975,0.975)">0</text><text transform="translate(221.65,1577.90)">.</text><text transform="translate(236.54,1577.90) scale(0.975,0.975)">0</text><text transform="translate(256.93,1577.90) scale(0.975,0.975)">0</text></g>
<g font-family="Liberation Sans, sans-serif" font-size="36.67" fill="#4D4D4D" text-anchor="middle" text-rendering="geometricPrecision"><text transform="translate(620.02,1577.90) scale(0.975,0.975)">0</text><text transform="translate(634.95,1577.90)">.</text><text transform="translate(649.84,1577.90) scale(0.975,0.975)">2</text><text transform="translate(670.23,1577.90) scale(0.975,0.975)">5</text></g>
<g font-family="Liberation Sans, sans-serif" font-size="36.67" fill="#4D4D4D" text-anchor="middle" text-rendering="geometricPrecision"><text transform="translate(1033.32,1577.90) scale(0.975,0.975)">0</text><text transform="translate(1048.25,1577.90)">.</text><text transform="translate(1063.14,1577.90) scale(0.975,0.975)">5</text><text transform="translate(1083.53,1577.90) scale(0.975,0.975)">0</text></g>
<g font-family="Liberation Sans, sans-serif" font-size="36.67" fill="#4D4D4D" text-anchor="middle" text-rendering="geometricPrecision"><text transform="translate(1446.62,1577.90) scale(0.975,0.975)">0</text><text transform="translate(1461.55,1577.90)">.</text><text transform="translate(1476.44,1577.90) scale(0.975,0.975)">7</text><text transform="translate(1496.83,1577.90) scale(0.975,0.975)">5</text></g>
<g font-family="Liberation Sans, sans-serif" font-size="36.67" fill="#4D4D4D" text-anchor="middle" text-rendering="geometricPrecision"><text transform="translate(1860.47,1577.90) scale(0.975,0.975)" clip-path="url(#c1)">1</text><text transform="translate(1875.15,1577.90)">.</text><text transform="translate(1890.14,1577.90) scale(0.975,0.975)">0</text><text transform="translate(1910.13,1577.90) scale(0.975,0.975)">0</text></g>
<g font-family="Liberation Sans, sans-serif" font-size="45.83" fill="#000000" text-anchor="middle" text-rendering="geometricPrecision"><text transform="translate(954.11,1631.30)">a</text><text transform="translate(972.80,1631.30)">f</text><text transform="translate(985.12,1631.30)">f</text><text transform="translate(996.57,1631.30)">i</text><text transform="translate(1006.76,1631.30)">l</text><text transform="translate(1018.22,1631.30)">:</text><text transform="translate(1052.59,1631.30) scale(1.0,1.058)">B</text><text transform="translate(1083.16,1631.30) scale(1.0,1.058)">A</text><text transform="translate(1113.72,1631.30) scale(1.0,1.058)">S</text><text transform="translate(1135.37,1631.30) scale(1.0,1.058)">I</text><text transform="translate(1158.29,1631.30) scale(1.0,1.058)">C</text></g>
<g font-family="Liberation Sans, sans-serif" font-size="45.83" fill="#000000" text-anchor="middle" text-rendering="geometricPrecision" transform="translate(56.20,814.50) rotate(-90)"><text transform="translate(-140.95,0) scale(1.0,1.058)">T</text><text transform="translate(-118.90,0)">o</text><text transform="translate(-94.07,0)">p</text><text transform="translate(-76.53,0)">i</text><text transform="translate(-60.23,0)">c</text><text transform="translate(-21.48,0) scale(1.0,1.058)">T</text><text transform="translate(-4.54,0)">r</text><text transform="translate(16.08,0)">a</text><text transform="translate(41.42,0)">n</text><text transform="translate(64.77,0)">s</text><text transform="translate(88.92,0)">p</text><text transform="translate(114.21,0)">o</text><text transform="translate(134.68,0)">r</text><text transform="translate(148.28,0)">t</text></g>
<g font-family="Liberation Sans, sans-serif" font-size="55.0" fill="#000000" text-anchor="middle" text-rendering="geometricPrecision"><text transform="translate(169.57,63.00) scale(1.0,1.058)">R</text><text transform="translate(203.22,63.00)">e</text><text transform="translate(234.10,63.00)">g</text><text transform="translate(259.15,63.00)">r</text><text transform="translate(282.21,63.00)">e</text><text transform="translate(312.05,63.00)">s</text><text transform="translate(339.65,63.00)">s</text><text transform="translate(360.61,63.00)">i</text><text transform="translate(381.31,63.00)">o</text><text transform="translate(412.40,63.00)">n</text><text transform="translate(461.72,63.00) scale(1.0,1.058)">P</text><text transform="translate(485.77,63.00)">l</text><text transform="translate(506.67,63.00)">o</text><text transform="translate(528.91,63.00)">t</text></g>
</svg>
</body></html>
